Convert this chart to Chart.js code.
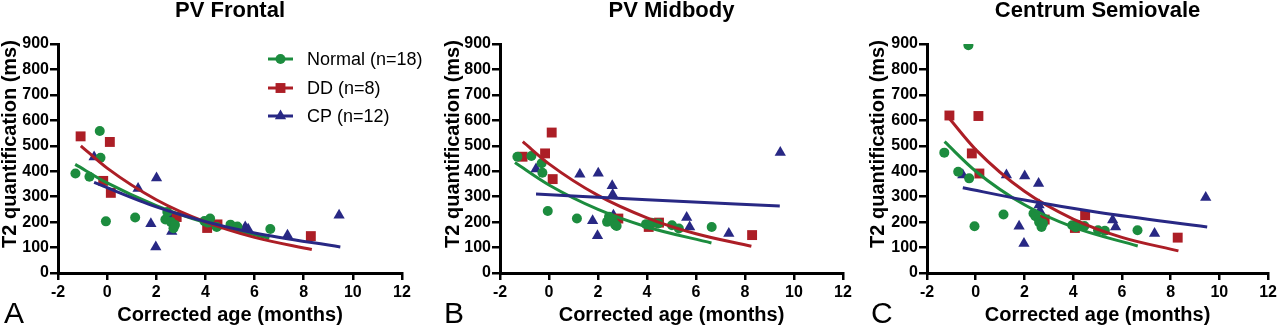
<!DOCTYPE html>
<html>
<head>
<meta charset="utf-8">
<script src="https://cdn.jsdelivr.net/npm/chart.js@4"></script>
<style>
  html, body { margin: 0; padding: 0; background: #fff; }
  #wrap { position: relative; width: 1280px; height: 328px; overflow: hidden; background: #fff; }
  canvas { position: absolute; top: 0; }
</style>
</head>
<body>
<div id="wrap">
  <canvas id="pA" width="430" height="328" style="left:0px"></canvas>
  <canvas id="pB" width="430" height="328" style="left:430px"></canvas>
  <canvas id="pC" width="420" height="328" style="left:860px"></canvas>
</div>
<script>
// ---- data: corrected age (months) and T2 values (ms) per group ----
const ageNormal = [-1.29, -0.72, -0.30, -0.27, -0.05, 1.14, 2.37, 2.45, 2.60, 2.70, 2.76, 3.96, 4.10, 4.19, 4.46, 5.02, 5.30, 6.64];
const frontalNormal = [391, 378, 558, 453, 203, 218, 210, 240, 200, 176, 189, 204, 198, 214, 181, 190, 183, 173];
const midbodyNormal = [457, 460, 431, 394, 244, 214, 201, 221, 205, 190, 185, 192, 190, 197, 195, 188, 175, 181];
const csNormal      = [473, 398, 895, 372, 184, 230, 234, 223, 200, 181, 195, 188, 180, 190, 185, 168, 166, 168];

const ageDD = [-1.08, -0.16, 0.11, 0.15, 2.83, 4.07, 4.49, 8.29];
const frontalDD = [537, 362, 515, 315, 220, 177, 191, 145];
const midbodyDD = [457, 470, 552, 369, 214, 181, 198, 149];
const csDD      = [619, 470, 617, 391, 210, 177, 227, 139];

const ageCP = [-0.53, 1.26, 1.78, 1.98, 2.01, 2.58, 2.60, 2.63, 5.62, 5.74, 7.34, 9.44];
const frontalCP = [456, 332, 194, 102, 373, 215, 207, 163, 181, 172, 148, 227];
const midbodyCP = [409, 388, 205, 146, 392, 343, 309, 227, 218, 181, 155, 474];
const csCP      = [385, 385, 184, 116, 381, 352, 267, 245, 208, 181, 155, 297];

// ---- fitted decay curves (sampled along each fit) ----
const frontalFitNormalX = [-1.3, 0, 2, 4, 6.6];
const frontalFitNormalY = [427, 354, 265, 198, 136];
const frontalFitDDX = [-1.07, 0, 2, 4, 6, 8.33];
const frontalFitDDY = [500, 412, 288, 201, 140, 92];
const frontalFitCPX = [-0.53, 2, 4, 6, 9.49];
const frontalFitCPY = [356, 260, 202, 157, 102];

const midbodyFitNormalX = [-1.39, 0, 2, 4, 6.63];
const midbodyFitNormalY = [434, 346, 250, 181, 118];
const midbodyFitDDX = [-1.07, 0, 2, 4, 6, 8.26];
const midbodyFitDDY = [516, 429, 305, 217, 154, 105];
const midbodyFitCPX = [-0.53, 4, 9.42];
const midbodyFitCPY = [310, 288, 263];

const csFitNormalX = [-1.28, 0, 2, 4, 6.65];
const csFitNormalY = [516, 400, 268, 180, 106];
const csFitDDX = [-1.09, 0, 2, 4, 6, 8.32];
const csFitDDY = [608, 485, 321, 212, 140, 87];
const csFitCPX = [-0.53, 2, 5, 9.5];
const csFitCPY = [335, 287, 239, 181];

const xTicks = [-2, 0, 2, 4, 6, 8, 10, 12];
const yTicks = [0, 100, 200, 300, 400, 500, 600, 700, 800, 900];

const groupLabels = ['Normal (n=18)', 'DD (n=8)', 'CP (n=12)'];
const yTitle = 'T2 quantification (ms)';
const xTitle = 'Corrected age (months)';

// ---- styling ----
const FONT = '"Liberation Sans", Arial, Helvetica, sans-serif';
const GREEN = 'rgb(28,140,62)';
const RED = 'rgb(172,30,38)';
const NAVY = 'rgb(40,40,132)';
const groupStyles = [
  { color: GREEN, pointStyle: 'circle', radius: 5 },
  { color: RED, pointStyle: 'rect', radius: 7 },
  { color: NAVY, pointStyle: 'triangle', radius: 6.5 }
];

function pairs(xs, ys) { return xs.map((x, i) => ({ x: x, y: ys[i] })); }

function drawMarker(ctx, style, x, y) {
  ctx.beginPath();
  if (style.pointStyle === 'circle') {
    ctx.arc(x, y, style.radius, 0, Math.PI * 2);
  } else if (style.pointStyle === 'rect') {
    const s = style.radius * Math.SQRT1_2;
    ctx.rect(x - s, y - s, 2 * s, 2 * s);
  } else {
    const r = style.radius;
    ctx.moveTo(x, y - r);
    ctx.lineTo(x + r * Math.sin(2 * Math.PI / 3), y - r * Math.cos(2 * Math.PI / 3));
    ctx.lineTo(x + r * Math.sin(4 * Math.PI / 3), y - r * Math.cos(4 * Math.PI / 3));
    ctx.closePath();
  }
  ctx.fill();
}

// panel title, rotated y title, panel letter and (optionally) the legend
const panelText = {
  id: 'panelText',
  afterDraw(chart, args, o) {
    const { ctx, chartArea } = chart;
    ctx.save();
    ctx.fillStyle = '#000';
    ctx.textAlign = 'center';
    ctx.textBaseline = 'middle';
    ctx.font = 'bold 22px ' + FONT;
    ctx.fillText(o.title, (chartArea.left + chartArea.right) / 2, 11);

    ctx.save();
    ctx.translate(o.yTitleX, 144);
    ctx.rotate(-Math.PI / 2);
    ctx.font = 'bold 20px ' + FONT;
    ctx.fillText(yTitle, 0, 0);
    ctx.restore();

    ctx.textAlign = 'left';
    ctx.textBaseline = 'alphabetic';
    ctx.font = '30px ' + FONT;
    ctx.fillText(o.letter, o.letterX, 323);

    if (o.legend) {
      const rows = [59, 88, 116];
      groupLabels.forEach((label, i) => {
        const st = groupStyles[i];
        const y = rows[i];
        ctx.strokeStyle = st.color;
        ctx.fillStyle = st.color;
        ctx.lineWidth = 3;
        ctx.beginPath();
        ctx.moveTo(268, y);
        ctx.lineTo(293, y);
        ctx.stroke();
        drawMarker(ctx, st, 280.5, y);
        ctx.fillStyle = '#000';
        ctx.font = '18px ' + FONT;
        ctx.textBaseline = 'middle';
        ctx.fillText(label, 307, y + 1);
      });
    }
    ctx.restore();
  }
};

function makePanel(id, cfg) {
  const canvas = document.getElementById(id);
  const ys = [cfg.normal, cfg.dd, cfg.cp];
  const xs = [ageNormal, ageDD, ageCP];
  const fits = cfg.fits;
  const datasets = [];
  // fitted curves drawn on top of the points
  fits.forEach((f, i) => {
    datasets.push({
      label: groupLabels[i] + ' fit',
      data: pairs(f[0], f[1]),
      showLine: true,
      borderColor: groupStyles[i].color,
      backgroundColor: groupStyles[i].color,
      borderWidth: 3,
      pointRadius: 0,
      cubicInterpolationMode: 'monotone',
      order: 3 - i
    });
  });
  ys.forEach((vals, i) => {
    datasets.push({
      label: groupLabels[i],
      data: pairs(xs[i], vals),
      showLine: false,
      pointStyle: groupStyles[i].pointStyle,
      pointRadius: groupStyles[i].radius,
      pointBackgroundColor: groupStyles[i].color,
      pointBorderColor: groupStyles[i].color,
      pointBorderWidth: 0,
      order: 10 + i
    });
  });

  const tickFont = { family: FONT, size: 16, weight: 'bold' };
  new Chart(canvas, {
    type: 'scatter',
    data: { datasets: datasets },
    options: {
      responsive: false,
      animation: false,
      events: [],
      layout: { padding: { top: 44, right: canvas.width - cfg.plotRight, bottom: 0, left: 0 } },
      plugins: {
        legend: { display: false },
        tooltip: { enabled: false },
        title: { display: false },
        panelText: { title: cfg.title, letter: cfg.letter, letterX: cfg.letterX, yTitleX: cfg.yTitleX, legend: !!cfg.legend }
      },
      scales: {
        x: {
          type: 'linear',
          min: xTicks[0],
          max: xTicks[xTicks.length - 1],
          afterBuildTicks: s => { s.ticks = xTicks.map(v => ({ value: v })); },
          ticks: { font: tickFont, color: '#000', padding: 3, maxRotation: 0 },
          grid: { display: true, drawOnChartArea: false, drawTicks: true, tickLength: 7, color: '#000', lineWidth: 2.5 },
          border: { display: true, color: '#000', width: 3 },
          title: { display: true, text: xTitle, color: '#000', font: { family: FONT, size: 20, weight: 'bold' }, padding: { top: 0, bottom: 1 } },
          afterFit: s => { s.height = 55; }
        },
        y: {
          type: 'linear',
          min: yTicks[0],
          max: yTicks[yTicks.length - 1],
          afterBuildTicks: s => { s.ticks = yTicks.map(v => ({ value: v })); },
          ticks: { font: tickFont, color: '#000', padding: 1 },
          grid: { display: true, drawOnChartArea: false, drawTicks: true, tickLength: 8, color: '#000', lineWidth: 2.5 },
          border: { display: true, color: '#000', width: 3 },
          afterFit: s => { s.width = cfg.plotLeft; }
        }
      }
    },
    plugins: [panelText]
  });
}

makePanel('pA', {
  title: 'PV Frontal', letter: 'A', letterX: 4, yTitleX: 10, plotLeft: 58, plotRight: 402, legend: true,
  normal: frontalNormal, dd: frontalDD, cp: frontalCP,
  fits: [[frontalFitNormalX, frontalFitNormalY], [frontalFitDDX, frontalFitDDY], [frontalFitCPX, frontalFitCPY]]
});
makePanel('pB', {
  title: 'PV Midbody', letter: 'B', letterX: 14, yTitleX: 23, plotLeft: 70, plotRight: 413,
  normal: midbodyNormal, dd: midbodyDD, cp: midbodyCP,
  fits: [[midbodyFitNormalX, midbodyFitNormalY], [midbodyFitDDX, midbodyFitDDY], [midbodyFitCPX, midbodyFitCPY]]
});
makePanel('pC', {
  title: 'Centrum Semiovale', letter: 'C', letterX: 11, yTitleX: 18, plotLeft: 67, plotRight: 409,
  normal: csNormal, dd: csDD, cp: csCP,
  fits: [[csFitNormalX, csFitNormalY], [csFitDDX, csFitDDY], [csFitCPX, csFitCPY]]
});
</script>
</body>
</html>
